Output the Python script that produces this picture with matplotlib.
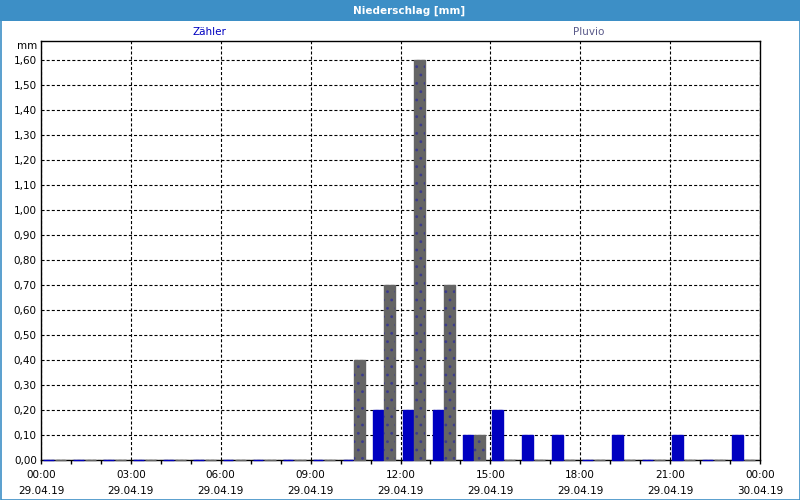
import numpy as np
import matplotlib.pyplot as plt
from matplotlib.patches import Rectangle
from matplotlib.ticker import MultipleLocator, FixedLocator, FuncFormatter

# Data ===========================================
hours = np.arange(24)
zaehler = [0, 0, 0, 0, 0, 0, 0, 0, 0, 0, 0,
           0.2, 0.2, 0.2, 0.1, 0.2, 0.1, 0.1, 0, 0.1, 0, 0.1, 0, 0.1]
pluvio = [0, 0, 0, 0, 0, 0, 0, 0, 0, 0,
          0.4, 0.7, 1.6, 0.7, 0.1, 0, 0, 0, 0, 0, 0, 0, 0, 0]
tick_hours = [0, 3, 6, 9, 12, 15, 18, 21, 24]
tick_times = ['00:00', '03:00', '06:00', '09:00', '12:00', '15:00', '18:00', '21:00', '00:00']
tick_dates = ['29.04.19'] * 8 + ['30.04.19']

blue = '#0000c0'
grey = '#656565'

plt.rcParams['lines.scale_dashes'] = False
plt.rcParams['hatch.linewidth'] = 0.8

# Plot ===========================================
fig = plt.figure(figsize=(8, 5), dpi=100)
fig.patch.set_facecolor('white')
ax = fig.add_axes([41/800, 1-460/500, 719/800, 419/500])

ax.bar(hours + 0.07, zaehler, width=0.355, align='edge', color=blue,
       edgecolor=blue, linewidth=1.0, zorder=3, clip_on=False)
ax.bar(hours + 0.46, pluvio, width=0.37, align='edge', color=grey,
       edgecolor=grey, linewidth=1.0, zorder=3, clip_on=False)
# dotted texture on the Pluvio bars
ax.bar(hours + 0.46, pluvio, width=0.37, align='edge', color='none',
       edgecolor='#3c3c8c', linewidth=0, hatch='..', zorder=4)

ax.set_xlim(0, 24)
ax.set_ylim(0, 1.676)

ax.xaxis.set_major_locator(FixedLocator(tick_hours))
ax.xaxis.set_minor_locator(MultipleLocator(1))
ax.set_xticklabels([t + '\n' + d for t, d in zip(tick_times, tick_dates)],
                   fontsize=7.5, linespacing=1.75)
ax.tick_params(axis='x', which='both', direction='out', length=3, width=1, pad=4)

ax.yaxis.set_major_locator(MultipleLocator(0.1))
ax.yaxis.set_major_formatter(FuncFormatter(lambda v, p: ('%.2f' % v).replace('.', ',')))
ax.tick_params(axis='y', length=0, pad=3, labelsize=7.5)

ax.grid(True, color='black', linestyle=(0, (2.2, 1.5)), linewidth=0.8, zorder=1)
ax.set_axisbelow(True)
for s in ax.spines.values():
    s.set_linewidth(1)

# Title bar and labels
fig.patches.append(Rectangle((0, 1-21/500), 1, 21/500, transform=fig.transFigure,
                             facecolor='#3d8fc6', edgecolor='none', zorder=0))
fig.patches.append(Rectangle((0.5/800, 0.5/500), 799/800, 499/500, transform=fig.transFigure,
                             facecolor='none', edgecolor='#3d8fc6', linewidth=1.2))
fig.text(409/800, 1-11/500, 'Niederschlag [mm]', color='white', fontsize=7.5,
         fontweight='bold', ha='center', va='center')
fig.text(209/800, 1-32/500, 'Zähler', color=blue, fontsize=7.5, ha='center', va='center')
fig.text(589/800, 1-32/500, 'Pluvio', color='#5a5a8a', fontsize=7.5, ha='center', va='center')
fig.text(37/800, 1-46/500, 'mm', fontsize=7.5, ha='right', va='center')

plt.savefig('out.png', dpi=100)
